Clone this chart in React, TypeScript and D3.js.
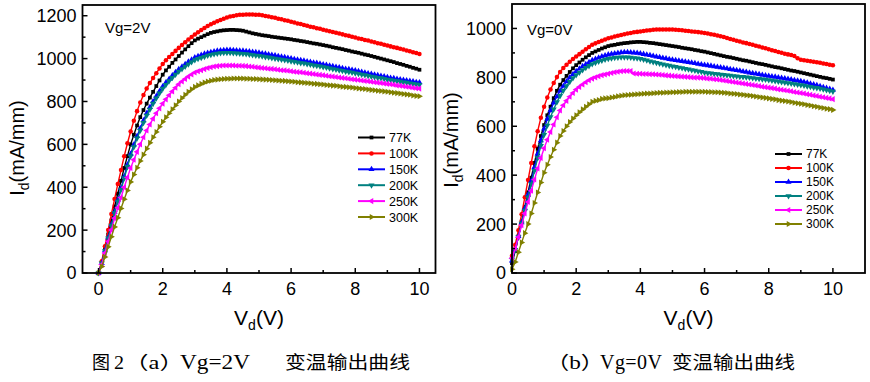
import React from "react";
import * as d3 from "d3";

// Drain voltage sampling (V)
const VD = [
  0, 0.1, 0.2, 0.3, 0.4, 0.5, 0.6, 0.7, 0.8, 0.9, 1,
  1.1, 1.2, 1.3, 1.4, 1.5, 1.6, 1.7, 1.8, 1.9, 2,
  2.1, 2.2, 2.3, 2.4, 2.5, 2.6, 2.7, 2.8, 2.9, 3,
  3.1, 3.2, 3.3, 3.4, 3.5, 3.6, 3.7, 3.8, 3.9, 4,
  4.1, 4.2, 4.3, 4.4, 4.5, 4.6, 4.7, 4.8, 4.9, 5,
  5.1, 5.2, 5.3, 5.4, 5.5, 5.6, 5.7, 5.8, 5.9, 6,
  6.1, 6.2, 6.3, 6.4, 6.5, 6.6, 6.7, 6.8, 6.9, 7,
  7.1, 7.2, 7.3, 7.4, 7.5, 7.6, 7.7, 7.8, 7.9, 8,
  8.1, 8.2, 8.3, 8.4, 8.5, 8.6, 8.7, 8.8, 8.9, 9,
  9.1, 9.2, 9.3, 9.4, 9.5, 9.6, 9.7, 9.8, 9.9, 10,
];

const TEMPS = ["77K", "100K", "150K", "200K", "250K", "300K"];

// Vg = 2V
const L_77K = [
  0, 50, 115, 180, 245, 310, 370, 430, 490, 545, 600,
  645, 688, 727, 760, 790, 818, 845, 872, 898, 925,
  945, 962, 980, 996, 1012, 1028, 1043, 1058, 1072, 1085,
  1093, 1100, 1107, 1114, 1120, 1124, 1127, 1130, 1132, 1133,
  1134, 1134, 1133, 1132, 1130, 1126, 1122, 1118, 1115, 1112,
  1109, 1107, 1105, 1102, 1100, 1098, 1096, 1094, 1092, 1090,
  1087, 1085, 1082, 1080, 1077, 1074, 1071, 1069, 1066, 1063,
  1060, 1057, 1053, 1050, 1047, 1044, 1040, 1037, 1033, 1030,
  1027, 1023, 1019, 1016, 1012, 1008, 1004, 1000, 996, 992,
  988, 984, 979, 975, 971, 966, 962, 957, 953, 948,
];
const L_100K = [
  0, 55, 125, 200, 275, 345, 415, 480, 545, 605, 660,
  710, 755, 795, 830, 860, 886, 910, 932, 954, 975,
  992, 1007, 1022, 1036, 1050, 1063, 1076, 1089, 1101, 1112,
  1123, 1133, 1143, 1152, 1160, 1167, 1174, 1180, 1186, 1192,
  1196, 1199, 1202, 1204, 1205, 1206, 1206, 1206, 1205, 1204,
  1202, 1199, 1196, 1193, 1190, 1186, 1183, 1179, 1176, 1172,
  1168, 1164, 1161, 1157, 1153, 1149, 1146, 1142, 1139, 1135,
  1131, 1128, 1124, 1121, 1117, 1113, 1109, 1106, 1102, 1098,
  1094, 1091, 1087, 1084, 1080, 1076, 1072, 1069, 1065, 1061,
  1057, 1053, 1050, 1046, 1042, 1038, 1034, 1030, 1026, 1022,
];
const L_150K = [
  0, 45, 105, 165, 225, 285, 340, 395, 450, 505, 555,
  598, 638, 675, 711, 745, 773, 800, 825, 848, 870,
  888, 905, 921, 936, 950, 962, 974, 985, 995, 1005,
  1011, 1017, 1022, 1026, 1030, 1033, 1036, 1038, 1039, 1040,
  1040, 1039, 1038, 1037, 1036, 1034, 1033, 1031, 1029, 1027,
  1024, 1022, 1019, 1017, 1014, 1011, 1008, 1006, 1003, 1000,
  997, 995, 992, 990, 987, 984, 981, 979, 976, 973,
  970, 967, 964, 961, 958, 955, 952, 950, 947, 944,
  941, 938, 934, 931, 928, 925, 922, 919, 916, 913,
  910, 908, 905, 903, 900, 898, 895, 893, 890, 888,
];
const L_200K = [
  0, 45, 103, 162, 221, 280, 334, 388, 442, 495, 545,
  588, 628, 665, 701, 735, 763, 790, 815, 838, 860,
  878, 895, 911, 926, 940, 952, 963, 974, 984, 993,
  999, 1004, 1009, 1014, 1018, 1021, 1024, 1026, 1027, 1027,
  1027, 1026, 1025, 1024, 1023, 1021, 1019, 1017, 1015, 1013,
  1011, 1008, 1006, 1003, 1001, 998, 996, 993, 991, 988,
  985, 983, 980, 978, 975, 972, 969, 967, 964, 961,
  958, 955, 952, 949, 946, 943, 940, 938, 935, 932,
  929, 926, 923, 920, 917, 914, 911, 909, 906, 903,
  900, 898, 895, 893, 890, 888, 885, 883, 880, 878,
];
const L_250K = [
  0, 40, 93, 147, 201, 255, 304, 352, 400, 446, 490,
  528, 565, 600, 633, 665, 693, 720, 745, 768, 790,
  810, 829, 847, 864, 880, 893, 905, 916, 926, 935,
  941, 946, 951, 956, 960, 963, 965, 967, 968, 968,
  968, 968, 967, 967, 966, 965, 963, 962, 960, 958,
  956, 955, 953, 952, 950, 948, 946, 945, 943, 941,
  939, 937, 936, 934, 932, 930, 928, 926, 924, 922,
  920, 918, 916, 914, 912, 910, 908, 906, 904, 902,
  900, 898, 896, 894, 892, 890, 888, 886, 884, 882,
  880, 878, 875, 873, 871, 869, 867, 864, 862, 860,
];
const L_300K = [
  0, 30, 75, 122, 169, 215, 258, 301, 344, 385, 425,
  459, 491, 522, 552, 580, 607, 633, 658, 682, 705,
  726, 745, 764, 782, 800, 816, 831, 845, 857, 868,
  875, 882, 888, 893, 897, 900, 902, 904, 905, 906,
  906, 907, 907, 907, 907, 906, 906, 905, 905, 904,
  903, 902, 901, 900, 899, 898, 897, 896, 894, 893,
  892, 890, 889, 887, 886, 885, 883, 882, 880, 879,
  877, 876, 874, 873, 871, 869, 868, 866, 865, 863,
  861, 859, 858, 856, 854, 852, 850, 849, 847, 845,
  843, 841, 839, 837, 835, 833, 831, 828, 826, 824,
];

// Vg = 0V
const R_77K = [
  40, 90, 150, 210, 270, 330, 390, 450, 508, 560, 605,
  645, 680, 715, 745, 770, 789, 806, 822, 837, 850,
  861, 872, 882, 891, 900, 906, 912, 918, 923, 928,
  931, 933, 936, 938, 940, 941, 943, 944, 945, 945,
  944, 943, 941, 940, 938, 936, 934, 932, 930, 928,
  926, 924, 921, 919, 917, 915, 912, 910, 907, 905,
  902, 899, 896, 893, 890, 887, 884, 882, 879, 876,
  873, 870, 868, 865, 862, 859, 856, 854, 851, 848,
  845, 842, 840, 837, 834, 831, 828, 826, 823, 820,
  817, 814, 811, 808, 805, 802, 799, 797, 794, 791,
];
const R_100K = [
  70, 115, 175, 240, 310, 380, 450, 518, 580, 635, 680,
  718, 750, 777, 801, 822, 838, 852, 864, 875, 885,
  895, 905, 915, 924, 933, 939, 945, 950, 955, 960,
  963, 967, 970, 973, 976, 979, 981, 984, 986, 988,
  990, 992, 993, 995, 996, 996, 996, 996, 996, 996,
  995, 994, 993, 991, 990, 988, 987, 985, 983, 981,
  979, 976, 974, 971, 968, 965, 961, 957, 954, 950,
  947, 943, 940, 936, 933, 929, 926, 922, 919, 915,
  911, 908, 904, 901, 897, 894, 891, 887, 878, 872,
  870, 868, 866, 864, 862, 860, 857, 855, 852, 850,
];
const R_150K = [
  50, 95, 150, 207, 264, 320, 376, 432, 488, 542, 590,
  630, 665, 696, 722, 745, 765, 783, 799, 813, 825,
  835, 845, 854, 862, 870, 875, 880, 885, 889, 893,
  896, 898, 900, 902, 903, 903, 902, 901, 900, 898,
  895, 892, 890, 887, 884, 882, 879, 877, 874, 872,
  870, 868, 866, 864, 862, 860, 858, 855, 853, 851,
  849, 847, 844, 842, 840, 838, 836, 833, 831, 829,
  827, 824, 822, 819, 817, 815, 813, 810, 808, 806,
  804, 802, 799, 797, 795, 793, 791, 788, 786, 784,
  781, 778, 774, 771, 768, 764, 760, 756, 752, 748,
];
const R_200K = [
  55, 95, 148, 202, 256, 310, 364, 418, 470, 520, 565,
  603, 638, 670, 699, 725, 746, 765, 782, 797, 810,
  820, 830, 839, 847, 855, 860, 865, 869, 873, 876,
  878, 880, 881, 882, 882, 882, 881, 879, 878, 876,
  873, 870, 866, 863, 860, 857, 854, 851, 848, 845,
  843, 840, 838, 835, 833, 830, 828, 825, 823, 820,
  818, 817, 815, 814, 812, 811, 809, 808, 806, 805,
  803, 802, 800, 799, 797, 795, 794, 792, 791, 789,
  787, 785, 783, 781, 779, 777, 775, 773, 771, 769,
  767, 764, 762, 759, 757, 754, 751, 748, 745, 742,
];
const R_250K = [
  60, 100, 147, 195, 243, 290, 336, 382, 427, 470, 510,
  545, 577, 607, 637, 665, 686, 704, 721, 736, 750,
  761, 771, 780, 788, 795, 800, 805, 809, 812, 815,
  818, 821, 823, 825, 826, 826, 826, 816, 815, 815,
  814, 814, 813, 813, 812, 811, 810, 808, 807, 806,
  805, 804, 803, 802, 801, 800, 799, 799, 798, 797,
  795, 794, 792, 791, 789, 787, 785, 783, 781, 779,
  777, 775, 773, 771, 769, 767, 765, 762, 760, 758,
  756, 754, 751, 749, 747, 745, 743, 740, 738, 736,
  734, 731, 729, 726, 724, 721, 719, 716, 714, 711,
];
const R_300K = [
  15, 45, 85, 125, 163, 200, 243, 286, 329, 370, 410,
  443, 474, 504, 533, 560, 581, 600, 617, 632, 645,
  657, 669, 680, 690, 700, 704, 707, 712, 714, 715,
  718, 720, 723, 725, 727, 728, 729, 730, 731, 732,
  733, 734, 734, 735, 736, 737, 737, 738, 738, 739,
  739, 740, 740, 741, 741, 741, 741, 741, 741, 741,
  740, 740, 739, 739, 738, 737, 736, 734, 733, 732,
  730, 729, 727, 726, 724, 722, 720, 718, 716, 714,
  712, 710, 707, 705, 703, 701, 699, 696, 694, 692,
  690, 687, 685, 682, 680, 677, 675, 672, 670, 667,
];

const LEFT_SERIES = [L_77K, L_100K, L_150K, L_200K, L_250K, L_300K];
const RIGHT_SERIES = [R_77K, R_100K, R_150K, R_200K, R_250K, R_300K];

const X_TICKS = [0, 2, 4, 6, 8, 10];
const X_MINOR = [1, 3, 5, 7, 9];
const LEFT_Y_TICKS = [0, 200, 400, 600, 800, 1000, 1200];
const LEFT_Y_MINOR = [100, 300, 500, 700, 900, 1100];
const RIGHT_Y_TICKS = [0, 200, 400, 600, 800, 1000];
const RIGHT_Y_MINOR = [100, 300, 500, 700, 900];

const COLORS = ["#000000", "#ff0000", "#0000ff", "#008080", "#ff00ff", "#808000"];
const SYMBOLS = [d3.symbolSquare, d3.symbolCircle, d3.symbolTriangle, d3.symbolTriangle, d3.symbolTriangle, d3.symbolTriangle];
const SYM_ROT = [0, 0, 0, 180, -90, 90];
const SYM_SIZE = [14, 16, 16, 16, 16, 16];

const SANS = "'Liberation Sans', Arial, sans-serif";
const SERIF = "'Liberation Serif', 'Times New Roman', 'Noto Sans CJK SC', serif";

type PanelProps = {
  left: number; right: number; top: number; bottom: number;
  xDomain: [number, number]; yDomain: [number, number];
  yTicks: number[]; yMinor: number[];
  series: number[][];
  vgLabel: string; vgX: number; vgY: number;
  legX: number; legY: number; legDy: number; legFont: number;
  yLabelX: number; yLabelY: number;
};

function Panel(p: PanelProps) {
  const x = d3.scaleLinear().domain(p.xDomain).range([p.left, p.right]);
  const y = d3.scaleLinear().domain(p.yDomain).range([p.bottom, p.top]);
  const line = d3.line<number>().x((_, i) => x(VD[i])).y((d) => y(d));
  const sym = (k: number) => d3.symbol().type(SYMBOLS[k]).size(SYM_SIZE[k])() as string;
  const major = 5;
  const minor = 3;
  return (
    <g>
      {p.series.map((s, k) => (
        <g key={k}>
          <path d={line(s) as string} fill="none" stroke={COLORS[k]} strokeWidth={1.4} />
          {s.map((v, i) => (
            <path key={i} d={sym(k)} fill={COLORS[k]}
              transform={`translate(${x(VD[i])},${y(v)}) rotate(${SYM_ROT[k]})`} />
          ))}
        </g>
      ))}
      <rect x={p.left} y={p.top} width={p.right - p.left} height={p.bottom - p.top}
        fill="none" stroke="#000" strokeWidth={1.8} />
      {X_TICKS.map((t) => (
        <g key={"xt" + t}>
          <line x1={x(t)} x2={x(t)} y1={p.bottom} y2={p.bottom - major} stroke="#000" strokeWidth={1.5} />
          <text x={x(t)} y={p.bottom + 22} textAnchor="middle" fontFamily={SANS} fontSize={18}>{t}</text>
        </g>
      ))}
      {X_MINOR.map((t) => (
        <line key={"xm" + t} x1={x(t)} x2={x(t)} y1={p.bottom} y2={p.bottom - minor} stroke="#000" strokeWidth={1.5} />
      ))}
      {p.yTicks.map((t) => (
        <g key={"yt" + t}>
          <line x1={p.left} x2={p.left + major} y1={y(t)} y2={y(t)} stroke="#000" strokeWidth={1.5} />
          <text x={p.left - 6} y={y(t)} dy="0.36em" textAnchor="end" fontFamily={SANS} fontSize={18}>{t}</text>
        </g>
      ))}
      {p.yMinor.map((t) => (
        <line key={"ym" + t} x1={p.left} x2={p.left + minor} y1={y(t)} y2={y(t)} stroke="#000" strokeWidth={1.5} />
      ))}
      <text x={(p.left + p.right) / 2} y={p.bottom + 52} textAnchor="middle" fontFamily={SANS} fontSize={21}>
        V<tspan dy={5} fontSize={14}>d</tspan><tspan dy={-5}>(V)</tspan>
      </text>
      <text transform={`translate(${p.yLabelX},${p.yLabelY}) rotate(-90)`} textAnchor="middle" fontFamily={SANS} fontSize={20}>
        I<tspan dy={5} fontSize={14}>d</tspan><tspan dy={-5}>(mA/mm)</tspan>
      </text>
      <text x={p.vgX} y={p.vgY} fontFamily={SANS} fontSize={15}>{p.vgLabel}</text>
      {TEMPS.map((name, k) => {
        const ly = p.legY + k * p.legDy;
        return (
          <g key={name}>
            <line x1={p.legX} x2={p.legX + 27} y1={ly} y2={ly} stroke={COLORS[k]} strokeWidth={2} />
            <path d={sym(k)} fill={COLORS[k]} transform={`translate(${p.legX + 13.5},${ly}) rotate(${SYM_ROT[k]})`} />
            <text x={p.legX + 31} y={ly} dy="0.36em" fontFamily={SANS} fontSize={p.legFont}>{name}</text>
          </g>
        );
      })}
    </g>
  );
}

function Seg({ x, w, size = 18, adj = "spacingAndGlyphs", children }: { x: number; w: number; size?: number; adj?: string; children: string }) {
  return (
    <text x={x} y={369} fontFamily={SERIF} fontSize={size} textLength={w} lengthAdjust={adj}>{children}</text>
  );
}

export default function App() {
  return (
    <svg width={870} height={382} viewBox="0 0 870 382"
      style={{ position: "absolute", left: 0, top: 0, background: "#fff" }}>
      <rect x={0} y={0} width={870} height={382} fill="#fff" />
      <Panel left={82.5} right={435.5} top={5} bottom={273}
        xDomain={[-0.5, 10.5]} yDomain={[0, 1250]}
        yTicks={LEFT_Y_TICKS} yMinor={LEFT_Y_MINOR} series={LEFT_SERIES}
        vgLabel="Vg=2V" vgX={105} vgY={33}
        legX={358} legY={137.5} legDy={15.9} legFont={12.5}
        yLabelX={24} yLabelY={148} />
      <Panel left={512} right={865} top={4} bottom={273}
        xDomain={[0, 11]} yDomain={[0, 1100]}
        yTicks={RIGHT_Y_TICKS} yMinor={RIGHT_Y_MINOR} series={RIGHT_SERIES}
        vgLabel="Vg=0V" vgX={527} vgY={35}
        legX={775} legY={154} legDy={14} legFont={12}
        yLabelX={458} yLabelY={140} />
      <Seg x={92} w={18}>图</Seg>
      <Seg x={114} w={10}>2</Seg>
      <Seg x={124} w={60}>（a）</Seg>
      <Seg x={180} w={70} size={20} adj="spacingAndGlyphs">Vg=2V</Seg>
      <Seg x={285} w={125}>变温输出曲线</Seg>
      <Seg x={546} w={58}>（b）</Seg>
      <Seg x={600} w={62} size={20} adj="spacing">Vg=0V</Seg>
      <Seg x={672} w={123}>变温输出曲线</Seg>
    </svg>
  );
}
